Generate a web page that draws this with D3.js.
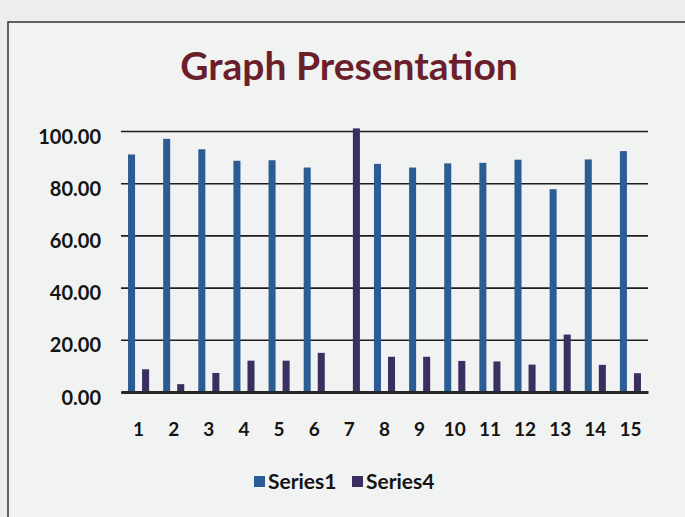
<!DOCTYPE html>
<html>
<head>
<meta charset="utf-8">
<script src="https://cdn.jsdelivr.net/npm/d3@7"></script>
<style>
  body { margin: 0; background: #eceeee; }
  svg { display: block; }
</style>
</head>
<body>
<div id="chart"></div>
<script>
// data
const categories = ["1","2","3","4","5","6","7","8","9","10","11","12","13","14","15"];
const seriesNames = ["Series1", "Series4"];
const series1 = [91, 97, 93, 88.6, 88.8, 86, 0, 87.4, 86, 87.6, 87.8, 89, 77.7, 89.1, 92.3];
const series4 = [8.7, 3, 7.3, 12, 12, 15, 101, 13.5, 13.5, 11.9, 11.7, 10.5, 22, 10.4, 7.2];
const yTicks = [0, 20, 40, 60, 80, 100];

function drawChart() {
    const W = 685, H = 517;
    var margin = {top: 131, right: 37, bottom: 125, left: 121},
        width = W - margin.left - margin.right,
        height = H - margin.top - margin.bottom;

    const color = d3.scaleOrdinal().domain(seriesNames).range(["#2c5c94", "#3a2f60"]);
    const font = "Lato, 'Open Sans', sans-serif";

    var root = d3.select("#chart")
        .append("svg")
        .attr("width", W)
        .attr("height", H);

    // paper background + chart border (runs off the page)
    root.append("rect").attr("width", W).attr("height", H).attr("fill", "#eceeee");
    root.append("rect")
        .attr("x", 8).attr("y", 22)
        .attr("width", W + 20).attr("height", H + 20)
        .attr("fill", "#f1f2f2")
        .attr("stroke", "#333").attr("stroke-width", 1.5);

    // title
    root.append("text")
        .attr("x", 349).attr("y", 80)
        .attr("text-anchor", "middle")
        .style("font-family", font)
        .style("font-weight", "bold")
        .style("font-size", "39px")
        .style("fill", "#6a1f2b")
        .text("Graph Presentation");

    var svg = root.append("g")
        .attr("transform", "translate(" + margin.left + "," + margin.top + ")");

    var x0 = d3.scaleBand().domain(categories).range([0, width]);
    var bw = x0.bandwidth();
    var x1 = d3.scaleBand().domain(seriesNames).range([bw * 0.2, bw * 0.8]).paddingInner(0.5);
    var y = d3.scaleLinear().domain([0, 100]).range([height, 0]);

    // gridlines
    svg.append("g")
        .call(d3.axisLeft(y).tickValues(yTicks).tickSize(-width).tickFormat(""))
        .call(g => g.select(".domain").remove())
        .call(g => g.selectAll("line").attr("stroke", "#1e1e1e").attr("stroke-width", 1.6));

    // y labels
    svg.append("g")
        .call(d3.axisLeft(y).tickValues(yTicks).tickSize(0).tickPadding(20).tickFormat(d3.format(".2f")))
        .call(g => g.select(".domain").remove())
        .call(g => g.selectAll("text")
            .attr("dy", "0.6em")
            .style("font-family", font).style("font-weight", "bold")
            .style("font-size", "20px").style("fill", "#141414"));

    // bars
    const rows = categories.map((c, i) => ({cat: c, values: [
        {name: "Series1", value: series1[i]},
        {name: "Series4", value: series4[i]}
    ]}));

    svg.append("g")
        .selectAll("g")
        .data(rows)
        .enter()
        .append("g")
        .attr("transform", d => "translate(" + x0(d.cat) + ",0)")
        .selectAll("rect")
        .data(d => d.values)
        .enter()
        .append("rect")
        .attr("x", d => x1(d.name))
        .attr("width", x1.bandwidth())
        .attr("y", d => y(d.value))
        .attr("height", d => y(0) - y(d.value))
        .attr("fill", d => color(d.name));

    // x axis
    svg.append("g")
        .attr("transform", "translate(0," + height + ")")
        .call(d3.axisBottom(x0).tickSize(0).tickPadding(31))
        .call(g => g.select(".domain").attr("stroke", "#262626").attr("stroke-width", 3))
        .call(g => g.selectAll("text")
            .style("font-family", font).style("font-weight", "bold")
            .style("font-size", "19px").style("fill", "#141414"));

    // legend
    const legendX = [254, 352];
    var legend = root.append("g").attr("transform", "translate(0,475)");
    seriesNames.forEach(function(s, i) {
        legend.append("rect")
            .attr("x", legendX[i]).attr("y", 1)
            .attr("width", 11).attr("height", 11)
            .attr("fill", color(s));
        legend.append("text")
            .attr("x", legendX[i] + 14).attr("y", 14)
            .style("font-family", font).style("font-weight", "bold")
            .style("font-size", "21px").style("fill", "#141414")
            .text(s);
    });
}

drawChart();
</script>
</body>
</html>
